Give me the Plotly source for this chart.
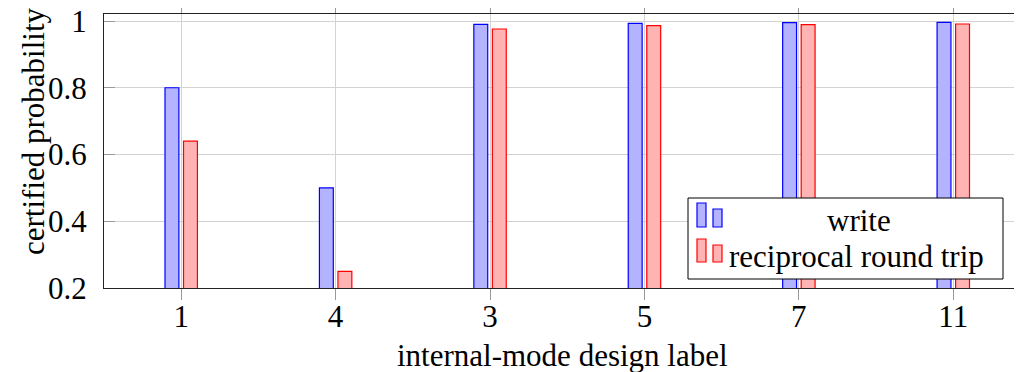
import plotly.graph_objects as go

# ---- data ----
categories = ["1", "4", "3", "5", "7", "11"]
write_vals = [0.80, 0.50, 0.990, 0.993, 0.995, 0.996]
round_trip_vals = [0.64, 0.25, 0.976, 0.986, 0.989, 0.991]
series_names = ["write", "reciprocal round trip"]
x_title = "internal-mode design label"
y_title = "certified probability"
y_ticks = [0.2, 0.4, 0.6, 0.8, 1.0]
y_tick_text = ["0.2", "0.4", "0.6", "0.8", "1"]

FONT = "Liberation Serif"
FS = 31
OFF = 8  # page body margin in the browser
W, H = 1022 - OFF, 372 - OFF
L, T, R, B = 104 - OFF, 14 - OFF, 0, 84
PW, PH = W - L - R, H - T - B

blue_fill, blue_line = "#b3b3ff", "#0000ff"
red_fill, red_line = "#ffb3b3", "#ff0000"

fig = go.Figure()
fig.add_trace(go.Bar(x=categories, y=write_vals, name=series_names[0],
                     width=0.09, offset=-0.105,
                     marker=dict(color=blue_fill, line=dict(color=blue_line, width=1.2))))
fig.add_trace(go.Bar(x=categories, y=round_trip_vals, name=series_names[1],
                     width=0.09, offset=0.015,
                     marker=dict(color=red_fill, line=dict(color=red_line, width=1.2))))

# convert screen pixel positions to paper coordinates
def px(x):
    return (x - OFF - L) / PW

def py(y):
    return (T + PH - (y - OFF)) / PH

shapes = []
# legend box
shapes.append(dict(type="rect", xref="paper", yref="paper", layer="above",
                   x0=px(688), x1=px(1003), y0=py(279), y1=py(198),
                   line=dict(color="black", width=1), fillcolor="white"))
# legend icons (two small bars per entry, pgfplots ybar style)
for (fill, line, top1, top2, bot) in [(blue_fill, blue_line, 203, 209, 227),
                                      (red_fill, red_line, 239, 245, 262)]:
    shapes.append(dict(type="rect", xref="paper", yref="paper", layer="above",
                       x0=px(697), x1=px(706), y0=py(bot), y1=py(top1),
                       line=dict(color=line, width=1.2), fillcolor=fill))
    shapes.append(dict(type="rect", xref="paper", yref="paper", layer="above",
                       x0=px(713), x1=px(722), y0=py(bot), y1=py(top2),
                       line=dict(color=line, width=1.2), fillcolor=fill))

annotations = [
    dict(text=series_names[0], xref="paper", yref="paper", x=px(859), y=py(220),
         xanchor="center", yanchor="middle", showarrow=False,
         font=dict(family=FONT, size=FS, color="black")),
    dict(text=series_names[1], xref="paper", yref="paper", x=px(727), y=py(256),
         xanchor="left", yanchor="middle", showarrow=False,
         font=dict(family=FONT, size=FS, color="black")),
    dict(text=x_title, xref="paper", yref="paper", x=px(562), y=py(355),
         xanchor="center", yanchor="middle", showarrow=False,
         font=dict(family=FONT, size=FS, color="black")),
    dict(text=y_title, xref="paper", yref="paper", x=px(33), y=py(131),
         xanchor="center", yanchor="middle", showarrow=False, textangle=-90,
         font=dict(family=FONT, size=FS, color="black")),
]

fig.update_layout(
    width=W, height=H,
    margin=dict(l=L, r=R, t=T, b=B, pad=0, autoexpand=False),
    paper_bgcolor="white", plot_bgcolor="white",
    showlegend=False,
    barmode="overlay",
    font=dict(family=FONT, size=FS, color="black"),
    shapes=shapes, annotations=annotations,
    xaxis=dict(
        type="category", range=[-0.5, 5.445], automargin=False,
        showline=True, linecolor="#222", linewidth=1.3, mirror="ticks",
        ticks="outside", ticklen=11, tickcolor="#999", tickwidth=1,
        showgrid=True, gridcolor="#d3d3d3", gridwidth=1,
        tickfont=dict(family=FONT, size=FS),
        ticklabelstandoff=-10, ticklabeloverflow="allow",
    ),
    yaxis=dict(
        range=[0.2, 1.021], automargin=False,
        tickvals=y_ticks, ticktext=y_tick_text,
        showline=True, linecolor="#222", linewidth=1.3,
        ticks="inside", ticklen=11, tickcolor="#999",
        showgrid=True, gridcolor="#d3d3d3", gridwidth=1,
        zeroline=False,
        tickfont=dict(family=FONT, size=FS),
        ticklabelstandoff=10, ticklabeloverflow="allow",
    ),
)

fig.write_html("out.html")
